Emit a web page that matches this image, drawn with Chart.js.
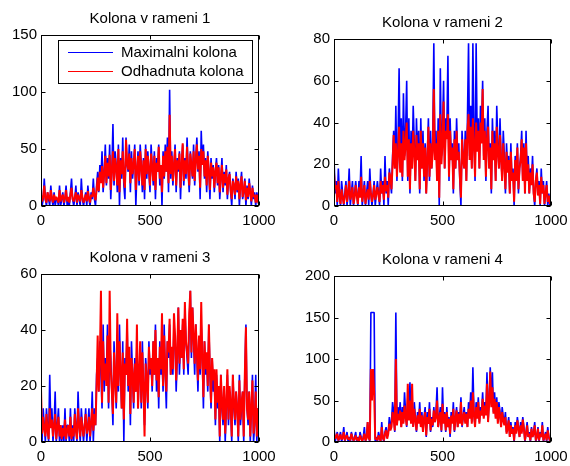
<!DOCTYPE html>
<html>
<head>
<meta charset="utf-8">
<script src="https://cdn.jsdelivr.net/npm/chart.js@4.4.0/dist/chart.umd.min.js"></script>
<style>
  html, body { margin: 0; padding: 0; background: #fff; overflow: hidden; }
  body { width: 570px; height: 466px; position: relative; }
  canvas { position: absolute; }
</style>
</head>
<body>
<canvas id="ramen1"></canvas>
<canvas id="ramen2"></canvas>
<canvas id="ramen3"></canvas>
<canvas id="ramen4"></canvas>
<script>
// vzorki po 5 korakih, od 0 do 1000
const xStep = 5;
const xTicks = [0, 500, 1000];
const legendLabels = ['Maximalni kolona', 'Odhadnuta kolona'];
const titles = ['Kolona v rameni 1', 'Kolona v rameni 2', 'Kolona v rameni 3', 'Kolona v rameni 4'];

const yTicks1 = [0, 50, 100, 150];
const yTicks2 = [0, 20, 40, 60, 80];
const yTicks3 = [0, 20, 40, 60];
const yTicks4 = [0, 50, 100, 150, 200];

const maxRamen1 = [
  12,0,6,24,6,0,12,6,0,18,6,0,12,0,6,6,0,18,0,6,
  12,0,6,18,0,6,0,12,24,6,0,6,18,0,12,6,0,24,6,0,
  6,12,0,18,6,0,12,6,24,6,0,18,30,12,36,24,48,12,30,54,
  18,42,24,54,6,30,72,18,48,36,12,54,0,42,24,60,18,6,60,36,
  30,54,12,48,24,36,54,0,30,48,18,54,36,12,42,6,54,24,48,30,
  12,54,36,18,48,6,42,30,54,18,36,0,48,24,54,30,60,12,102,24,
  48,18,36,54,12,42,30,48,6,36,54,18,42,24,60,30,12,48,36,24,
  54,18,42,60,30,48,6,66,36,54,24,42,12,48,30,6,42,24,36,12,
  30,42,18,36,6,24,42,12,30,18,36,6,24,30,12,0,24,18,6,30,
  12,24,0,18,30,6,12,24,0,18,6,24,12,0,18,6,12,0,12,6,
  0
];
const odhadRamen1 = [
  10,4,8,18,6,3,12,8,4,14,7,3,10,5,8,6,3,14,4,8,
  10,3,7,14,4,8,3,10,16,6,4,8,12,3,10,7,4,14,8,3,
  6,10,4,13,7,3,10,8,16,9,5,14,25,13,30,20,35,16,28,44,
  20,38,26,45,14,32,48,22,42,34,18,50,12,40,28,48,24,16,58,38,
  32,46,20,42,28,36,50,14,32,44,22,48,34,18,40,14,50,28,44,32,
  18,46,34,22,44,14,38,30,52,24,36,12,44,26,48,30,52,20,80,28,
  44,22,36,50,18,40,32,46,16,36,55,22,40,28,52,32,18,46,36,26,
  48,22,40,54,32,44,16,50,36,48,26,40,18,44,30,14,38,26,34,16,
  30,38,20,34,12,26,36,16,28,20,32,10,24,28,14,6,22,18,10,26,
  14,22,6,18,26,8,14,22,5,16,8,20,12,4,16,8,10,3,10,4,
  2
];

const maxRamen2 = [
  24,6,12,0,18,6,0,12,6,0,6,12,0,6,18,0,6,12,0,6,
  12,6,0,12,6,24,0,6,12,0,6,12,0,18,6,0,6,12,0,6,
  12,6,0,18,6,12,0,24,6,12,0,18,12,6,24,36,18,48,12,30,
  66,18,42,12,54,24,36,60,12,42,6,36,18,48,30,12,42,24,36,6,
  42,18,36,12,30,6,24,42,12,36,18,30,78,24,36,12,42,0,66,24,
  36,60,18,42,36,72,12,42,24,30,6,36,18,42,24,30,12,0,36,24,
  18,36,12,42,78,24,48,18,78,36,12,78,30,42,18,48,36,60,24,42,
  12,36,48,18,30,6,42,24,36,12,48,30,18,42,24,12,36,24,6,30,
  18,24,6,30,12,18,0,24,12,30,6,18,24,36,12,30,6,36,12,24,
  6,18,12,24,6,0,12,18,6,12,0,18,6,12,0,6,12,0,6,0,
  6
];
const odhadRamen2 = [
  16,8,10,2,12,5,1,8,4,1,5,10,2,6,12,3,5,9,1,4,
  10,5,1,9,4,14,2,6,10,1,5,8,3,12,6,2,5,10,3,6,
  9,5,2,12,6,10,3,14,7,10,4,16,14,8,20,34,18,30,14,26,
  38,16,30,14,36,22,30,40,14,32,8,30,18,36,26,12,34,22,30,8,
  36,18,30,14,28,6,22,38,14,30,18,26,56,22,30,12,36,4,44,20,
  30,50,18,36,32,44,14,36,22,28,8,32,18,36,22,26,14,4,32,22,
  18,32,12,36,44,22,38,18,42,30,14,40,26,36,18,40,30,56,22,36,
  14,32,38,18,28,8,36,22,30,12,38,26,18,34,22,12,30,20,8,26,
  16,22,6,26,12,16,2,22,12,28,8,18,22,32,12,28,6,30,12,20,
  6,16,10,20,6,2,12,16,5,10,1,14,6,10,1,6,10,2,5,1,
  4
];

const maxRamen3 = [
  6,0,12,6,0,12,6,0,24,6,12,0,6,18,0,6,12,0,6,0,
  6,0,12,0,6,6,0,12,0,6,0,12,6,0,18,6,0,12,6,0,
  6,12,0,6,12,0,6,18,0,12,6,24,30,18,36,24,12,42,18,30,
  24,42,12,36,30,18,6,36,24,12,30,18,42,24,12,36,0,30,24,42,
  18,30,6,36,24,12,30,18,36,12,24,30,12,36,18,6,30,24,12,36,
  24,30,18,36,24,42,18,30,12,36,24,30,18,42,24,12,36,30,42,24,
  30,24,42,36,18,30,48,24,36,30,42,24,48,36,30,24,42,54,30,48,
  36,24,42,30,18,36,24,42,30,12,36,24,30,18,42,24,12,30,18,24,
  6,24,12,18,0,24,12,6,18,0,12,24,6,18,12,0,24,12,6,18,
  12,0,24,6,12,18,0,24,42,12,6,18,0,12,24,0,6,24,0,12,
  6
];
const odhadRamen3 = [
  19,3,9,5,2,10,4,1,12,5,8,2,6,10,1,5,9,2,6,1,
  5,2,8,1,4,6,2,9,1,5,2,10,4,1,12,6,2,9,5,2,
  6,10,3,5,9,2,7,12,4,10,6,20,38,18,30,54,14,36,22,28,
  20,38,14,54,26,18,10,32,22,14,46,20,36,26,12,32,8,28,24,44,
  20,34,10,30,24,14,28,18,42,12,24,36,14,32,20,2,28,22,14,34,
  26,30,20,36,24,40,22,30,16,34,26,46,20,38,26,18,36,32,44,24,
  34,26,46,38,22,32,48,28,40,30,44,26,50,36,32,28,46,54,32,48,
  38,28,42,32,22,38,26,50,30,16,36,26,32,20,42,26,14,30,22,26,
  8,26,14,20,2,24,14,8,20,3,14,26,8,20,14,2,24,14,8,18,
  12,2,22,8,14,18,2,24,41,12,8,18,2,12,22,3,8,18,2,12,
  4
];

const maxRamen4 = [
  18,0,6,12,0,6,12,0,6,18,0,6,12,0,6,0,12,6,0,6,
  12,0,6,0,12,6,0,6,18,0,6,24,6,0,156,156,156,156,0,6,
  0,12,6,0,24,6,0,12,18,6,12,30,18,24,48,36,12,156,24,42,
  30,48,18,42,24,60,36,18,54,30,72,24,42,18,48,30,12,36,24,48,
  18,36,12,30,42,6,36,24,48,12,30,18,42,24,36,66,18,30,42,12,
  66,24,36,12,42,18,30,6,36,24,48,12,30,42,18,36,24,54,18,30,
  42,24,36,18,48,30,60,24,90,36,18,48,30,54,24,42,36,60,30,48,
  36,84,24,54,90,48,84,36,60,30,54,24,48,36,18,42,30,24,36,12,
  18,30,6,24,12,18,0,24,12,30,18,6,24,12,30,18,0,12,24,6,
  12,0,18,6,12,24,0,6,18,0,12,6,24,0,6,12,0,18,6,0,
  6
];
const odhadRamen4 = [
  12,4,6,10,2,5,9,3,5,12,2,6,8,3,5,2,10,5,2,4,
  8,2,5,1,8,4,1,5,10,2,4,24,5,2,88,50,88,60,3,5,
  2,8,4,1,18,5,2,10,14,4,10,22,14,18,36,28,14,100,20,34,
  26,38,18,36,22,44,30,20,70,26,50,22,70,18,40,26,14,32,22,40,
  18,32,12,28,36,8,30,22,40,14,28,20,38,24,30,50,18,28,36,14,
  46,22,34,14,36,18,28,10,32,22,40,14,28,38,18,34,22,48,20,30,
  36,22,34,18,40,28,50,22,60,32,18,42,28,48,22,38,32,52,28,44,
  32,70,24,46,85,42,66,34,52,28,48,22,42,32,18,36,26,20,30,10,
  16,26,6,20,10,16,2,20,10,26,16,6,20,10,27,16,2,10,20,6,
  10,2,16,6,10,20,2,6,16,2,10,6,20,2,6,10,2,14,6,2,
  4
];

const fontFamily = '"Liberation Sans", Arial, Helvetica, sans-serif';
const textColor = '#000';

function toPoints(values) {
  return values.map((v, i) => ({ x: i * xStep, y: v }));
}

// okvir okoli grafa in kratke crtice navznoter na vseh stirih straneh
const boxFrame = {
  id: 'boxFrame',
  afterDatasetsDraw(chart) {
    const { ctx, chartArea: a, scales } = chart;
    const l = Math.round(a.left) + 0.5, r = Math.round(a.right) - 0.5;
    const t = Math.round(a.top) + 0.5, b = Math.round(a.bottom) - 0.5;
    const len = 4;
    ctx.save();
    ctx.strokeStyle = '#000';
    ctx.lineWidth = 1;
    ctx.strokeRect(l, t, r - l, b - t);
    ctx.beginPath();
    scales.x.ticks.forEach(tk => {
      const px = Math.round(scales.x.getPixelForValue(tk.value)) + 0.5;
      ctx.moveTo(px, b); ctx.lineTo(px, b - len);
      ctx.moveTo(px, t); ctx.lineTo(px, t + len);
    });
    scales.y.ticks.forEach(tk => {
      const py = Math.round(scales.y.getPixelForValue(tk.value)) + 0.5;
      ctx.moveTo(l, py); ctx.lineTo(l + len, py);
      ctx.moveTo(r, py); ctx.lineTo(r - len, py);
    });
    ctx.stroke();
    ctx.restore();
  }
};

// legenda v okvirju, samo na prvem grafu
const boxLegend = {
  id: 'boxLegend',
  afterDraw(chart) {
    const { ctx, chartArea: a } = chart;
    const x0 = a.left + 17, x1 = a.right - 7;
    const y0 = a.top + 5, y1 = a.top + 48;
    ctx.save();
    ctx.fillStyle = '#fff';
    ctx.fillRect(x0, y0, x1 - x0, y1 - y0);
    ctx.strokeStyle = '#000';
    ctx.lineWidth = 1;
    ctx.strokeRect(Math.round(x0) + 0.5, Math.round(y0) + 0.5, Math.round(x1 - x0), Math.round(y1 - y0));
    ctx.font = '15px ' + fontFamily;
    ctx.textBaseline = 'middle';
    ctx.textAlign = 'left';
    chart.data.datasets.forEach((ds, i) => {
      const y = Math.round(a.top + 17 + i * 19) + 0.5;
      ctx.strokeStyle = ds.borderColor;
      ctx.lineWidth = 1;
      ctx.beginPath();
      ctx.moveTo(a.left + 27, y);
      ctx.lineTo(a.left + 72, y);
      ctx.stroke();
      ctx.fillStyle = textColor;
      ctx.fillText(ds.label, a.left + 80, y);
    });
    ctx.restore();
  }
};

function makePanel(id, geo, title, maxVals, odhadVals, yTicks, withLegend) {
  const cv = document.getElementById(id);
  cv.width = geo.w;
  cv.height = geo.h;
  cv.style.left = geo.x + 'px';
  cv.style.top = geo.y + 'px';
  cv.style.width = geo.w + 'px';
  cv.style.height = geo.h + 'px';

  const tickFont = { family: fontFamily, size: 15 };

  new Chart(cv, {
    type: 'line',
    data: {
      datasets: [
        {
          label: legendLabels[0],
          data: toPoints(maxVals),
          borderColor: '#0000ff',
          borderWidth: 1.6,
          borderJoinStyle: 'bevel',
          pointRadius: 0,
          tension: 0,
          order: 1
        },
        {
          label: legendLabels[1],
          data: toPoints(odhadVals),
          borderColor: '#ff0000',
          borderWidth: 2,
          borderJoinStyle: 'bevel',
          pointRadius: 0,
          tension: 0,
          order: 0
        }
      ]
    },
    options: {
      responsive: false,
      animation: false,
      events: [],
      layout: { padding: { left: 0, right: geo.padRight, top: 0, bottom: 0 } },
      plugins: {
        legend: { display: false },
        tooltip: { enabled: false },
        title: {
          display: true,
          text: title,
          fullSize: false,
          color: textColor,
          font: { family: fontFamily, size: 15, weight: 'normal' },
          padding: { top: 10, bottom: 7 }
        }
      },
      scales: {
        x: {
          type: 'linear',
          min: 0,
          max: 1000,
          afterBuildTicks: s => { s.ticks = xTicks.map(v => ({ value: v })); },
          afterFit: s => { s.height = 26; },
          grid: { display: false, drawTicks: false },
          border: { display: false },
          ticks: { padding: 6, color: textColor, font: tickFont, maxRotation: 0, callback: v => String(v) }
        },
        y: {
          type: 'linear',
          min: 0,
          max: yTicks[yTicks.length - 1],
          afterBuildTicks: s => { s.ticks = yTicks.map(v => ({ value: v })); },
          afterFit: s => { s.width = 41; },
          grid: { display: false, drawTicks: false },
          border: { display: false },
          ticks: { padding: 4, color: textColor, font: tickFont, callback: v => String(v) }
        }
      }
    },
    plugins: withLegend ? [boxFrame, boxLegend] : [boxFrame]
  });
}

makePanel('ramen1', { x: 0, y: 0, w: 289, h: 232, padRight: 30 }, titles[0], maxRamen1, odhadRamen1, yTicks1, true);
makePanel('ramen2', { x: 293, y: 4, w: 288, h: 228, padRight: 30 }, titles[1], maxRamen2, odhadRamen2, yTicks2, false);
makePanel('ramen3', { x: 0, y: 239, w: 289, h: 229, padRight: 30 }, titles[2], maxRamen3, odhadRamen3, yTicks3, false);
makePanel('ramen4', { x: 293, y: 241, w: 288, h: 227, padRight: 30 }, titles[3], maxRamen4, odhadRamen4, yTicks4, false);
</script>
</body>
</html>
